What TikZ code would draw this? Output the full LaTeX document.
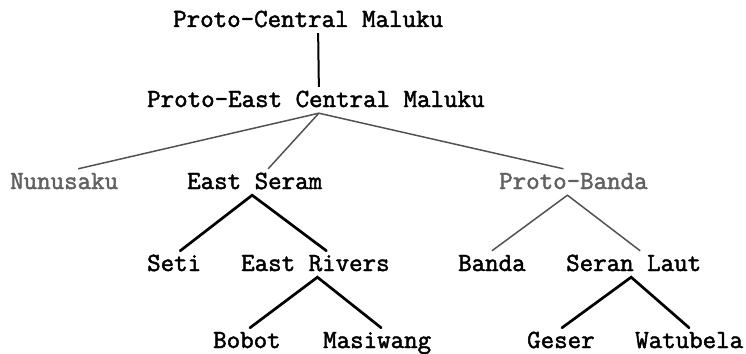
\documentclass[tikz,border=0pt]{standalone}
\usepackage{fontspec}
\newfontfamily\treefont{Latin Modern Mono}[FakeBold=1.8]
\begin{document}
\begin{tikzpicture}[x=1pt,y=1pt,yscale=-1,
  lang/.style={anchor=base west,inner xsep=0pt,inner ysep=6pt,
    text height=14pt,text depth=0pt,
    font=\treefont\fontsize{26.2}{30}\selectfont,text=black},
  faded/.style={lang,text=black!62},
  trunk/.style={draw=black,line width=2pt},
  thin/.style={draw=black!68,line width=1.5pt},
  thick/.style={draw=black,line width=2.7pt,line cap=round}]
\useasboundingbox (0,0) rectangle (746,353);

% language names
\node[lang]  (pcm)   at (173,27)  {Proto-Central Maluku};
\node[lang]  (pecm)  at (147,107) {Proto-East Central Maluku};
\node[faded] (nun)   at (10,189)  {Nunusaku};
\node[lang]  (es)    at (187,189) {East Seram};
\node[faded] (pb)    at (499,189) {Proto-Banda};
\node[lang]  (seti)  at (147,271) {Seti};
\node[lang]  (er)    at (241,271) {East Rivers};
\node[lang]  (banda) at (458,271) {Banda};
\node[lang]  (sl)    at (566,271) {Seran Laut};
\node[lang]  (bobot) at (213,348) {Bobot};
\node[lang]  (masi)  at (323,348) {Masiwang};
\node[lang]  (geser) at (527,348) {Geser};
\node[lang]  (watu)  at (635,348) {Watubela};

% branches
\draw[trunk] ([xshift=10pt]pcm.south) -- ([xshift=3pt]pecm.north);
\draw[thin] ([xshift=14pt]nun.north) -- ([xshift=3pt]pecm.south) -- ([xshift=-10pt]pb.north);
\draw[thin] ([xshift=3pt]pecm.south) -- ([xshift=13.5pt]es.north);
\draw[thick] ([xshift=6pt]seti.north) -- ([xshift=-2.5pt]es.south) -- ([xshift=11pt]er.north);
\draw[thin] (banda.north) -- ([xshift=-6pt]pb.south) -- ([xshift=6.5pt]sl.north);
\draw[thick] ([xshift=3pt]bobot.north) -- ([xshift=2pt]er.south) -- ([xshift=4pt]masi.north);
\draw[thick] ([xshift=1pt]geser.north) -- ([xshift=-2.5pt]sl.south) -- (watu.north);
\end{tikzpicture}
\end{document}
